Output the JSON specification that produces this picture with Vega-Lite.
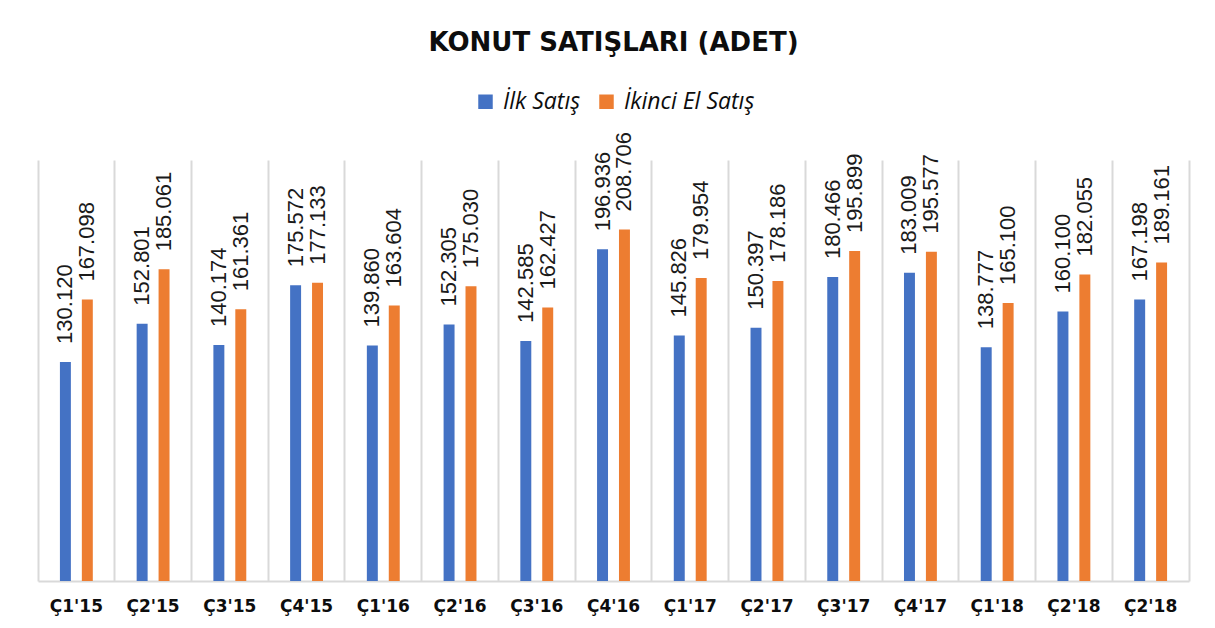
{
  "$schema": "https://vega.github.io/schema/vega-lite/v6.json",
  "width": 1151,
  "height": 421,
  "autosize": {"type": "none"},
  "padding": {"left": 38, "top": 160, "right": 26, "bottom": 47},
  "background": "white",
  "title": {
    "text": "KONUT SATIŞLARI (ADET)",
    "font": "DejaVu Sans",
    "fontSize": 26,
    "fontWeight": "bold",
    "color": "#0d0d0d",
    "anchor": "middle",
    "baseline": "bottom",
    "offset": 8
  },
  "data": {
    "values": [
      {"q": "Ç1'15", "s": "İlk Satış", "v": 130120},
      {"q": "Ç1'15", "s": "İkinci El Satış", "v": 167098},
      {"q": "Ç2'15", "s": "İlk Satış", "v": 152801},
      {"q": "Ç2'15", "s": "İkinci El Satış", "v": 185061},
      {"q": "Ç3'15", "s": "İlk Satış", "v": 140174},
      {"q": "Ç3'15", "s": "İkinci El Satış", "v": 161361},
      {"q": "Ç4'15", "s": "İlk Satış", "v": 175572},
      {"q": "Ç4'15", "s": "İkinci El Satış", "v": 177133},
      {"q": "Ç1'16", "s": "İlk Satış", "v": 139860},
      {"q": "Ç1'16", "s": "İkinci El Satış", "v": 163604},
      {"q": "Ç2'16", "s": "İlk Satış", "v": 152305},
      {"q": "Ç2'16", "s": "İkinci El Satış", "v": 175030},
      {"q": "Ç3'16", "s": "İlk Satış", "v": 142585},
      {"q": "Ç3'16", "s": "İkinci El Satış", "v": 162427},
      {"q": "Ç4'16", "s": "İlk Satış", "v": 196936},
      {"q": "Ç4'16", "s": "İkinci El Satış", "v": 208706},
      {"q": "Ç1'17", "s": "İlk Satış", "v": 145826},
      {"q": "Ç1'17", "s": "İkinci El Satış", "v": 179954},
      {"q": "Ç2'17", "s": "İlk Satış", "v": 150397},
      {"q": "Ç2'17", "s": "İkinci El Satış", "v": 178186},
      {"q": "Ç3'17", "s": "İlk Satış", "v": 180466},
      {"q": "Ç3'17", "s": "İkinci El Satış", "v": 195899},
      {"q": "Ç4'17", "s": "İlk Satış", "v": 183009},
      {"q": "Ç4'17", "s": "İkinci El Satış", "v": 195577},
      {"q": "Ç1'18", "s": "İlk Satış", "v": 138777},
      {"q": "Ç1'18", "s": "İkinci El Satış", "v": 165100},
      {"q": "Ç2'18", "s": "İlk Satış", "v": 160100},
      {"q": "Ç2'18", "s": "İkinci El Satış", "v": 182055},
      {"q": "Ç2'18 ", "s": "İlk Satış", "v": 167198},
      {"q": "Ç2'18 ", "s": "İkinci El Satış", "v": 189161}
    ]
  },
  "encoding": {
    "x": {
      "field": "q",
      "type": "nominal",
      "sort": null,
      "scale": {"paddingInner": 0, "paddingOuter": 0},
      "axis": {
        "title": null,
        "labelAngle": 0,
        "labelFont": "DejaVu Sans",
        "labelFontSize": 17,
        "labelFontWeight": "bold",
        "labelColor": "#0d0d0d",
        "labelPadding": 17,
        "ticks": false,
        "domainColor": "#d9d9d9",
        "domainWidth": 2,
        "grid": true,
        "gridColor": "#d9d9d9",
        "gridWidth": 2,
        "bandPosition": 0
      }
    },
    "xOffset": {
      "field": "s",
      "type": "nominal",
      "sort": ["İlk Satış", "İkinci El Satış"],
      "scale": {"paddingInner": 0.5, "paddingOuter": 1.17}
    },
    "y": {
      "field": "v",
      "type": "quantitative",
      "scale": {"domain": [0, 250000], "nice": false},
      "axis": {
        "orient": "right",
        "title": null,
        "labels": false,
        "ticks": false,
        "grid": false,
        "domain": true,
        "domainColor": "#d9d9d9",
        "domainWidth": 2
      }
    }
  },
  "layer": [
    {
      "mark": {"type": "bar"},
      "encoding": {
        "color": {
          "field": "s",
          "type": "nominal",
          "sort": ["İlk Satış", "İkinci El Satış"],
          "scale": {"domain": ["İlk Satış", "İkinci El Satış"], "range": ["#4472C4", "#ED7D31"]},
          "legend": {
            "title": null,
            "orient": "none",
            "legendX": 436,
            "legendY": -70,
            "direction": "horizontal",
            "symbolType": "square",
            "symbolSize": 210,
            "symbolStrokeWidth": 0,
            "labelFont": "Open Sans",
            "labelFontStyle": "italic",
            "labelFontSize": 23,
            "labelColor": "#0d0d0d",
            "labelOffset": 6,
            "columnPadding": 14
          }
        }
      }
    },
    {
      "mark": {
        "type": "text",
        "angle": -90,
        "align": "left",
        "baseline": "middle",
        "dx": 18,
        "font": "Liberation Sans",
        "fontSize": 22,
        "color": "#1a1a1a"
      },
      "encoding": {
        "text": {"field": "v", "type": "quantitative", "format": ",d"}
      }
    }
  ],
  "config": {
    "locale": {
      "number": {"decimal": ",", "thousands": ".", "grouping": [3], "currency": ["", " ₺"]}
    },
    "view": {"stroke": null}
  }
}
